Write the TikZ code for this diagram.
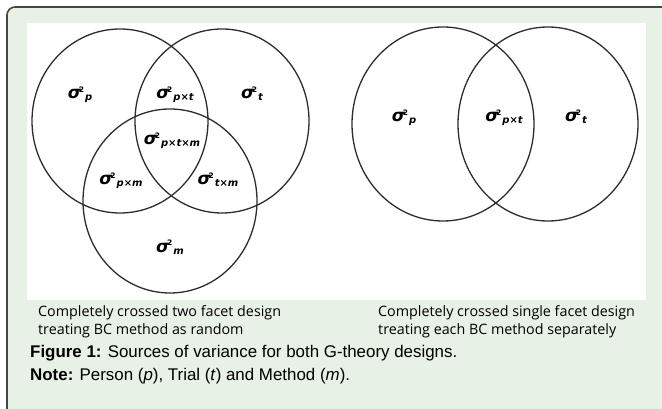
\documentclass[tikz,border=0pt]{standalone}
\usepackage{fontspec}
\setmainfont{Liberation Sans}
\newfontfamily\capfont{Open Sans}
\newfontfamily\sigfont{DejaVu Sans}
\definecolor{panelgreen}{RGB}{232,241,229}
\definecolor{framegray}{RGB}{70,70,70}
\definecolor{ringgray}{RGB}{45,45,45}
\newcommand\sigl[1]{{\sigfont\bfseries\itshape\fontsize{17}{17}\selectfont σ}\kern-2.3pt\raisebox{6.5pt}{\sigfont\bfseries\fontsize{7.5}{7.5}\selectfont 2}\kern1pt\raisebox{-2pt}{\sigfont\bfseries\itshape\fontsize{10}{10}\selectfont #1}}
\tikzset{
  ring/.style={draw=ringgray, line width=1.3pt},
  lab/.style={anchor=base, inner sep=0pt, text=black},
  subcap/.style={anchor=base west, inner sep=0pt, font=\capfont\fontsize{14.3}{14.3}\selectfont, text=black},
  figcap/.style={anchor=base west, inner sep=0pt, font=\fontsize{16.9}{16.9}\selectfont, text=black}
}
\begin{document}
\begin{tikzpicture}[x=1pt,y=-1pt]
\clip (0,0) rectangle (662,409);
\fill[white] (0,0) rectangle (662,409);
\draw[fill=panelgreen, draw=framegray, line width=1.6pt, rounded corners=8pt] (7,7) rectangle (700,440);
\fill[white] (27,23) rectangle (646,300);
% left diagram
\draw[ring] (120,121) ellipse [x radius=88, y radius=92];
\draw[ring] (222,121) ellipse [x radius=87, y radius=92];
\draw[ring] (170,201) ellipse [x radius=87, y radius=92];
\node[lab] (lp) at (80,99) {\sigl{p}};
\node[lab] (lpt) at (175,99) {\sigl{p×t}};
\node[lab] (lt) at (252,99) {\sigl{t}};
\node[lab] (lptm) at (172,145) {\sigl{p×t×m}};
\node[lab] (lpm) at (121,185) {\sigl{p×m}};
\node[lab] (ltm) at (218,185) {\sigl{t×m}};
\node[lab] (lm) at (170,252) {\sigl{m}};
% right diagram
\draw[ring] (443,124) ellipse [x radius=91, y radius=97];
\draw[ring] (548,124) ellipse [x radius=90, y radius=97];
\node[lab] (rp) at (404,122) {\sigl{p}};
\node[lab] (rpt) at (504,122) {\sigl{p×t}};
\node[lab] (rt) at (576,122) {\sigl{t}};
% captions
\node[subcap] (c1a) at (38,316) {Completely crossed two facet design};
\node[subcap] (c1b) at (38,334) {treating BC method as random};
\node[subcap] (c2a) at (378,316) {Completely crossed single facet design};
\node[subcap] (c2b) at (378,334) {treating each BC method separately};
\node[figcap] (f1) at (30,357) {\textbf{Figure 1:} Sources of variance for both G-theory designs.};
\node[figcap] (f2) at (30,380) {\textbf{Note:} Person (\textit{p}), Trial (\textit{t}) and Method (\textit{m}).};
\end{tikzpicture}
\end{document}
